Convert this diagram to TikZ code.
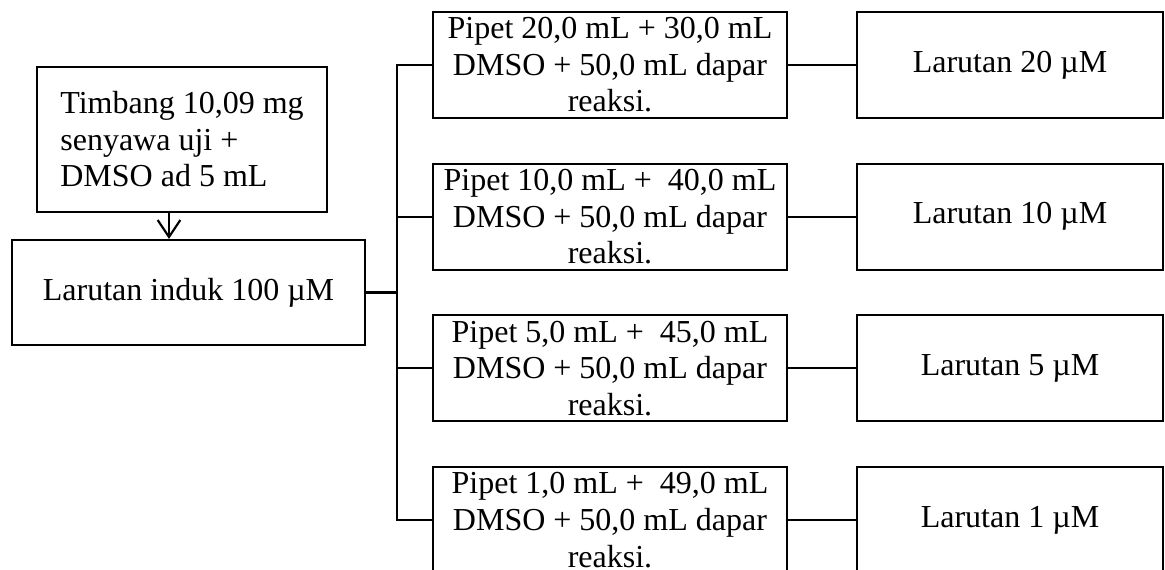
\documentclass[tikz,border=0pt]{standalone}
\usepackage{fontspec}
\setmainfont{Liberation Serif}
\usepackage{tikz}
\usetikzlibrary{arrows.meta,positioning,calc}

\tikzset{
  box/.style={draw,line width=1.6pt,inner sep=0pt,align=center,
    font=\fontsize{24}{27.4}\selectfont},
  pipetbox/.style={box,minimum width=265.5pt,minimum height=79.5pt},
  larbox/.style={box,minimum width=229.5pt,minimum height=79.5pt},
  link/.style={line width=1.6pt},
}

\begin{document}
\begin{tikzpicture}[x=0.75pt,y=-0.75pt]
  \useasboundingbox (0,0) rectangle (1165,569);
  % left column
  \node[box,align=left,minimum width=217.5pt,minimum height=108.75pt] (tim) at (182,139.5)
    {Timbang 10,09 mg\\senyawa uji +\\DMSO ad 5 mL};
  \node[box,minimum width=264.75pt,minimum height=78.75pt] (induk) at (188.5,292.5) {Larutan induk 100 µM};
  % dilutions
  \node[pipetbox] (p1) at (610,65)    {Pipet 20,0 mL + 30,0 mL\\DMSO + 50,0 mL dapar\\reaksi.};
  \node[pipetbox] (p2) at (610,216.7) {Pipet 10,0 mL + \ 40,0 mL\\DMSO + 50,0 mL dapar\\reaksi.};
  \node[pipetbox] (p3) at (610,368.4) {Pipet 5,0 mL + \ 45,0 mL\\DMSO + 50,0 mL dapar\\reaksi.};
  \node[pipetbox] (p4) at (610,520.1) {Pipet 1,0 mL + \ 49,0 mL\\DMSO + 50,0 mL dapar\\reaksi.};
  % results
  \node[larbox] (l1) at (1010,65)    {Larutan 20 µM};
  \node[larbox] (l2) at (1010,216.7) {Larutan 10 µM};
  \node[larbox] (l3) at (1010,368.4) {Larutan 5 µM};
  \node[larbox] (l4) at (1010,520.1) {Larutan 1 µM};

  \coordinate (drop) at ($(tim.south)+(-13,0)$);
  \draw[link,-{Straight Barb[length=12.75pt,width=17pt,line width=1.6pt]}]
    (drop) -- (drop |- induk.north);
  \coordinate (bus) at ($(p1.west)+(-35,0)$);
  \draw[link] (p1.west) -- (bus) -- (bus |- p4.west) -- (p4.west);
  \draw[link] (p2.west) -- (p2.west -| bus);
  \draw[link] (p3.west) -- (p3.west -| bus);
  \draw[link] (induk.east) -- (induk.east -| bus);
  \draw[link] (p1.east) -- (l1.west);
  \draw[link] (p2.east) -- (l2.west);
  \draw[link] (p3.east) -- (l3.west);
  \draw[link] (p4.east) -- (l4.west);
\end{tikzpicture}
\end{document}
